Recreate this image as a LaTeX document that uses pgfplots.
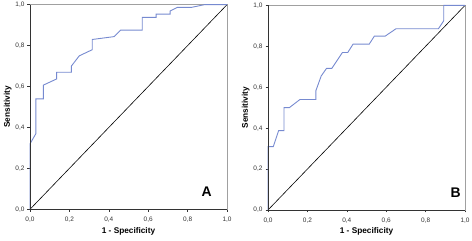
\documentclass[border=0pt]{standalone}
\usepackage{pgfplots}
\pgfplotsset{compat=1.18}
\usepackage{fontspec}
\setmainfont{Liberation Sans}
\definecolor{roc}{RGB}{118,138,208}
\definecolor{frame}{RGB}{160,160,160}
\pgfplotsset{
  rocaxis/.style={
    scale only axis, width=197bp, height=204.6bp,
    xmin=0, xmax=1, ymin=0, ymax=1,
    xtick={0,0.2,0.4,0.6,0.8,1}, ytick={0,0.2,0.4,0.6,0.8,1},
    tick pos=left, tick align=outside, major tick length=2.5bp,
    tick style={black!80, line width=0.5pt},
    axis line style={frame, line width=0.8pt},
    /pgf/number format/.cd, use comma, fixed, fixed zerofill, precision=1, assume math mode=true,
    /pgfplots/.cd,
    tick label style={font=\fontsize{6.5}{7.5}\selectfont, text=black!80},
    xticklabel style={yshift=-2bp},
    yticklabel style={xshift=0.5bp},
    xlabel={1 - Specificity}, ylabel={Sensitivity},
    label style={font=\fontsize{8.3}{10}\selectfont\bfseries},
    xlabel style={at={(axis description cs:0.5,-0.106)}, anchor=center},
    ylabel style={at={(axis description cs:-0.113,0.5)}, anchor=center},
    clip=false,
  }
}
\begin{document}
\begin{tikzpicture}
\path[use as bounding box] (0,0) rectangle (472bp,241bp);
\begin{axis}[rocaxis, at={(30bp,31.7bp)}, anchor=south west]
\addplot[black, line width=0.6pt] coordinates {(0,0) (1,1)};
\addplot[roc, line width=0.9pt] coordinates {
(0,0) (0,0.32) (0.03,0.37) (0.03,0.54) (0.068,0.54) (0.068,0.607)
(0.135,0.637) (0.135,0.67) (0.21,0.67) (0.21,0.70) (0.25,0.75)
(0.316,0.78) (0.316,0.83) (0.427,0.844) (0.46,0.876) (0.57,0.876)
(0.57,0.938) (0.64,0.938) (0.64,0.954) (0.711,0.954) (0.711,0.969)
(0.748,0.987) (0.82,0.987) (0.885,1.0) (1,1)};
\draw[black!80, line width=0.8pt] (rel axis cs:0,1) -- (rel axis cs:0,0) -- (rel axis cs:1,0);
\node[font=\fontsize{14}{16}\selectfont\bfseries] at (axis cs:0.897,0.085) {A};
\end{axis}
\begin{axis}[rocaxis, at={(268bp,31bp)}, anchor=south west]
\addplot[black, line width=0.6pt] coordinates {(0,0) (1,1)};
\addplot[roc, line width=0.9pt] coordinates {
(0,0) (0,0.31) (0.027,0.31) (0.054,0.388) (0.081,0.388) (0.081,0.50)
(0.108,0.50) (0.162,0.54) (0.243,0.54) (0.243,0.583) (0.27,0.655)
(0.297,0.692) (0.324,0.692) (0.378,0.77) (0.405,0.77) (0.432,0.811)
(0.514,0.811) (0.54,0.85) (0.595,0.85) (0.65,0.886) (0.865,0.886)
(0.892,0.925) (0.892,1.0) (1,1)};
\draw[black!80, line width=0.8pt] (rel axis cs:0,1) -- (rel axis cs:0,0) -- (rel axis cs:1,0);
\node[font=\fontsize{14}{16}\selectfont\bfseries] at (axis cs:0.953,0.085) {B};
\end{axis}
\end{tikzpicture}
\end{document}
